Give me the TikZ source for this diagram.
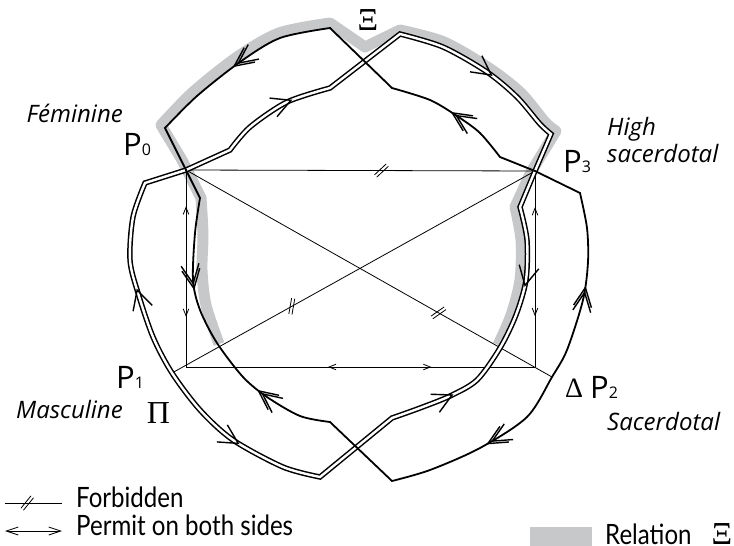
\documentclass[tikz,border=0pt]{standalone}
\usepackage{fontspec}
\usetikzlibrary{decorations.markings,calc,arrows.meta}
\newfontfamily\labfont{Open Sans}
\newfontfamily\legfont{Lato}[FakeStretch=0.86]
\newfontfamily\grfont{Liberation Serif}
\definecolor{relgrey}{RGB}{199,200,202}
\newcommand\mychev{\draw[chevst] (-19pt,10pt) -- (0pt,0pt) -- (-19pt,-10pt);}
\newcommand\mychevr{\draw[chevst] (19pt,10pt) -- (0pt,0pt) -- (19pt,-10pt);}
\newcommand\mydchev{\draw[chevst] (-19pt,9pt) -- (0pt,0pt) -- (-19pt,-9pt) (-24pt,9pt) -- (-5pt,0pt) -- (-24pt,-9pt);}
\newcommand\mydchevr{\draw[chevst] (19pt,9pt) -- (0pt,0pt) -- (19pt,-9pt) (24pt,9pt) -- (5pt,0pt) -- (24pt,-9pt);}
\newcommand\mysm{\draw[thinst] (-7pt,2.8pt) -- (0pt,0pt) -- (-7pt,-2.8pt);}
\newcommand\mysmr{\draw[thinst] (7pt,2.8pt) -- (0pt,0pt) -- (7pt,-2.8pt);}
\newcommand\mysub[1]{{\fontsize{16}{16}\selectfont #1}}
\begin{document}
\begin{tikzpicture}[x=1pt,y=-1pt,
  thinst/.style={line width=0.8pt, draw=black},
  singlest/.style={line width=1.8pt, draw=black, line join=miter},
  doublest/.style={draw=black, double=white, line width=1.5pt, double distance=2.4pt, line join=miter},
  chevst/.style={line width=1.4pt, draw=black, line join=miter},
  greyst/.style={line width=11pt, draw=relgrey, line join=round},
  forb/.pic={\draw[thinst] (-1.6pt,-8pt) -- (-1.6pt,8pt) (1.6pt,-8pt) -- (1.6pt,8pt);},
  ital/.style={font=\labfont\fontsize{24}{24}\selectfont\itshape, inner sep=0pt},
  plab/.style={font=\labfont\fontsize{31}{31}\selectfont, inner sep=0pt},
  leg/.style={font=\legfont\fontsize{28}{28}\selectfont, inner sep=0pt},
  greek/.style={inner sep=0pt}]
\useasboundingbox (0,0) rectangle (734,546);

% main points
\coordinate (P0) at (186,170);
\coordinate (P3) at (535,171);
\coordinate (P1) at (172,373);
\coordinate (P2) at (552,377);
\coordinate (Q1) at (186,367);
\coordinate (Q2) at (535,367);
% single loop
\coordinate (s0) at (330,28);
\coordinate (sTL1) at (280,38);
\coordinate (sTL2) at (240,62);
\coordinate (sTL3) at (197,96);
\coordinate (s1) at (165,128);
\coordinate (s2) at (200,198);
\coordinate (sL1) at (195,233);
\coordinate (sL2) at (193,280);
\coordinate (sL3) at (200,310);
\coordinate (sL4) at (217,343);
\coordinate (sL5) at (243,377);
\coordinate (sL6) at (267,397);
\coordinate (sL7) at (300,416);
\coordinate (s3) at (330,422);
\coordinate (s4) at (392,481);
\coordinate (sBR1) at (430,470);
\coordinate (sBR2) at (480,448);
\coordinate (sBR3) at (527,417);
\coordinate (sBR4) at (567,350);
\coordinate (sBR5) at (583,300);
\coordinate (sBR6) at (588,262);
\coordinate (sBR7) at (587,228);
\coordinate (s5) at (580,193);
\coordinate (s6) at (500,157);
\coordinate (sTR1) at (480,133);
\coordinate (sTR2) at (457,116);
\coordinate (sTR3) at (430,100);
\coordinate (s7) at (392,88);
% double loop
\coordinate (d0) at (145,183);
\coordinate (d1) at (230,150);
\coordinate (dTL1) at (250,127);
\coordinate (dTL2) at (287,102);
\coordinate (d2) at (330,88);
\coordinate (d3) at (400,34);
\coordinate (dTR1) at (443,47);
\coordinate (dTR2) at (487,72);
\coordinate (dTR3) at (517,97);
\coordinate (dTR4) at (540,124);
\coordinate (d4) at (551,134);
\coordinate (d5) at (520,207);
\coordinate (dR1) at (527,240);
\coordinate (dR2) at (526,280);
\coordinate (dR3) at (516,315);
\coordinate (dR4) at (500,348);
\coordinate (dR5) at (477,380);
\coordinate (dR6) at (450,396);
\coordinate (dR7) at (420,408);
\coordinate (d6) at (392,418);
\coordinate (d7) at (320,477);
\coordinate (dBL1) at (283,467);
\coordinate (dBL2) at (233,440);
\coordinate (dBL3) at (200,410);
\coordinate (dBL4) at (153,337);
\coordinate (dBL5) at (138,293);
\coordinate (dBL6) at (130,260);
\coordinate (dBL7) at (133,217);

% relation band
\draw[greyst] plot[smooth] coordinates {(219,344) (206,305) (202,270) (203,235) (201,198)}
  -- (182,160) -- plot[smooth] coordinates {(161,125) (193,92) (237,57) (279,33) (330,23)}
  -- (365,47) -- plot[smooth] coordinates {(400,30) (444,42) (489,68) (521,93) (545,122) (556,131)}
  -- (531,172) -- plot[smooth] coordinates {(515,207) (521,240) (520,280) (511,315) (498,345)};

% thin lines
\draw[thinst] (P0) -- (P3);
\draw[thinst] (P0) -- (P2);
\draw[thinst] (P3) -- (P1);
\draw[thinst, postaction={decorate}, decoration={markings,
  mark=at position 0.19 with {\mysmr}, mark=at position 0.74 with {\mysm}}] (P0) -- (Q1);
\draw[thinst, postaction={decorate}, decoration={markings,
  mark=at position 0.19 with {\mysmr}, mark=at position 0.735 with {\mysm}}] (P3) -- (Q2);
\draw[thinst, postaction={decorate}, decoration={markings,
  mark=at position 0.41 with {\mysmr}, mark=at position 0.70 with {\mysm}}] (Q1) -- (Q2);
\pic[rotate=-47] at ($(P0)!0.56!(P3)$) {forb};
\pic[rotate=-10] at ($(P1)!0.33!(P3)$) {forb};
\pic[rotate=-55] at ($(P0)!0.69!(P2)$) {forb};

% double loop
\draw[doublest] plot[smooth] coordinates {(d7) (dBL1) (dBL2) (dBL3) (P1) (dBL4) (dBL5) (dBL6) (dBL7) (d0)}
  -- (P0) -- plot[smooth] coordinates {(d1) (dTL1) (dTL2) (d2)}
  -- plot[smooth] coordinates {(d3) (dTR1) (dTR2) (dTR3) (dTR4) (d4)}
  -- (P3) -- plot[smooth] coordinates {(d5) (dR1) (dR2) (dR3) (dR4) (dR5) (dR6) (dR7) (d6)}
  -- cycle;

% single loop
\draw[singlest] plot[smooth] coordinates {(s0) (sTL1) (sTL2) (sTL3) (s1)}
  -- (P0) -- plot[smooth] coordinates {(s2) (sL1) (sL2) (sL3) (sL4) (sL5) (sL6) (sL7) (s3)}
  -- plot[smooth] coordinates {(s4) (sBR1) (sBR2) (sBR3) (P2) (sBR4) (sBR5) (sBR6) (sBR7) (s5)}
  -- (P3) -- plot[smooth] coordinates {(s6) (sTR1) (sTR2) (sTR3) (s7)}
  -- cycle;

% arrows on single loop
\path[decorate, decoration={markings, mark=at position 0.53 with {\mydchev}}]
  plot[smooth] coordinates {(s0) (sTL1) (sTL2) (sTL3) (s1)};
\path[decorate, decoration={markings, mark=at position 0.31 with {\mydchev}, mark=at position 0.73 with {\mydchevr}}]
  plot[smooth] coordinates {(s2) (sL1) (sL2) (sL3) (sL4) (sL5) (sL6) (sL7) (s3)};
\path[decorate, decoration={markings, mark=at position 0.265 with {\mydchevr}, mark=at position 0.755 with {\mydchev}}]
  plot[smooth] coordinates {(s4) (sBR1) (sBR2) (sBR3) (P2) (sBR4) (sBR5) (sBR6) (sBR7) (s5)};
\path[decorate, decoration={markings, mark=at position 0.5 with {\mydchev}}]
  plot[smooth] coordinates {(s6) (sTR1) (sTR2) (sTR3) (s7)};
% arrows on double loop
\path[decorate, decoration={markings, mark=at position 0.66 with {\mychev}}]
  plot[smooth] coordinates {(d1) (dTL1) (dTL2) (d2)};
\path[decorate, decoration={markings, mark=at position 0.545 with {\mychev}}]
  plot[smooth] coordinates {(d3) (dTR1) (dTR2) (dTR3) (dTR4) (d4)};
\path[decorate, decoration={markings, mark=at position 0.283 with {\mychev}, mark=at position 0.77 with {\mychevr}}]
  plot[smooth] coordinates {(d5) (dR1) (dR2) (dR3) (dR4) (dR5) (dR6) (dR7) (d6)};
\path[decorate, decoration={markings, mark=at position 0.23 with {\mychevr}, mark=at position 0.715 with {\mychev}}]
  plot[smooth] coordinates {(d7) (dBL1) (dBL2) (dBL3) (P1) (dBL4) (dBL5) (dBL6) (dBL7) (d0)};

% labels
\node[greek, font=\grfont\fontsize{32}{32}\selectfont] (xi) at (368,20.5) {Ξ};
\node[ital, anchor=base east] (fem) at (123,122) {Féminine};
\node[plab, anchor=base west] (lp0) at (123,155) {P\mysub{0}};
\node[plab, anchor=base west] (lp3) at (563,172) {P\mysub{3}};
\node[ital, anchor=base west] (high) at (607,135) {High};
\node[ital, anchor=base west] (hsac) at (607,162) {sacerdotal};
\node[plab, anchor=base west] (lp1) at (116,388) {P\mysub{1}};
\node[ital, anchor=base east] (masc) at (123,418) {Masculine};
\node[greek, font=\grfont\fontsize{32}{32}\selectfont, anchor=base] (pi) at (158.5,423) {Π};
\node[greek, font=\grfont\fontsize{28}{28}\selectfont, anchor=base] (delta) at (574,397) {Δ};
\node[plab, anchor=base west] (lp2) at (590,398) {P\mysub{2}};
\node[ital, anchor=base west] (sac) at (607,430) {Sacerdotal};

% legend
\coordinate (f1) at (5,503);
\coordinate (f2) at (62,503);
\coordinate (pa1) at (5,531);
\coordinate (pa2) at (62,531);
\draw[thinst] (f1) -- (f2);
\pic[rotate=-39] at ($(f1)!0.39!(f2)$) {forb};
\draw[thinst, {Straight Barb[length=12pt,width=8pt]}-{Straight Barb[length=12pt,width=8pt]}] (pa1) -- (pa2);
\node[leg, anchor=base west] (lforb) at (76,507) {Forbidden};
\node[leg, anchor=base west] (lperm) at (76,535) {Permit on both sides};
\fill[relgrey] (530,527) rectangle (592,546);
\node[leg, anchor=base west, text depth=0pt] (lrel) at (605,544) {Relation};
\node[greek, font=\grfont\fontsize{32}{32}\selectfont, anchor=base, text depth=0pt] (lxi) at (722,544) {Ξ};
\end{tikzpicture}
\end{document}
